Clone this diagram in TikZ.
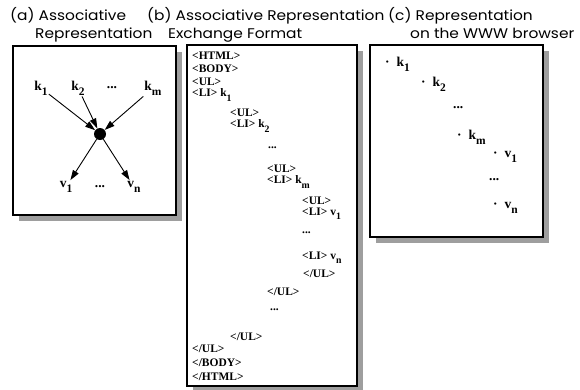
\documentclass[tikz,border=0pt]{standalone}
\usepackage{fontspec}
\setmainfont{Liberation Serif}
\newfontfamily\titlefont{Poppins}
\usetikzlibrary{arrows.meta}
\newcommand\lsub[1]{\raisebox{-0.38em}{\scalebox{0.85}{#1}}}
\newcommand\wide[1]{\scalebox{1.1}[1]{#1}}
\tikzset{
  panel/.style={draw=black, line width=1.6pt, fill=white},
  shade/.style={fill=black!38, draw=none},
  ttl/.style={anchor=base west, inner sep=0pt, font=\titlefont\fontsize{14}{14}\selectfont},
  code/.style={anchor=west, inner sep=0pt, font=\bfseries\fontsize{11.5}{11.5}\selectfont},
  lbl/.style={inner sep=1pt, font=\bfseries\fontsize{13.5}{13.5}\selectfont},
  item/.style={anchor=west, inner sep=0pt, font=\bfseries\fontsize{13.5}{13.5}\selectfont},
  arr/.style={-{Triangle[length=10pt,width=6.5pt]}, line width=0.9pt},
}
\begin{document}
\begin{tikzpicture}[x=1pt,y=-1pt]
\useasboundingbox (0,0) rectangle (580,389);
% titles
\node[ttl] (ta1) at (10,20) {\wide{(a) Associative}};
\node[ttl] (ta2) at (35,38) {\wide{Representation}};
\node[ttl] (tb1) at (147,20) {\wide{(b) Associative Representation}};
\node[ttl] (tb2) at (168,38) {\wide{Exchange Format}};
\node[ttl] (tc1) at (388,20) {\wide{(c) Representation}};
\node[ttl] (tc2) at (410,38) {\wide{on the WWW browser}};
% panels
\fill[shade] (19,52) rectangle (182,221);
\draw[panel] (13,46) rectangle (176,215);
\fill[shade] (193,51) rectangle (363,392);
\draw[panel] (187,45) rectangle (357,386);
\fill[shade] (376,51) rectangle (549,243);
\draw[panel] (370,45) rectangle (543,237);
% panel (a)
\node[lbl] (k1) at (41,88) {k\lsub{1}};
\node[lbl] (k2) at (78,88) {k\lsub{2}};
\node[lbl] (kd) at (112,88) {...};
\node[lbl] (km) at (153,88) {k\lsub{m}};
\node[circle, fill=black, inner sep=0pt, minimum size=12pt] (c) at (100,134) {};
\node[lbl] (v1) at (66,187) {v\lsub{1}};
\node[lbl] (vd) at (100,187) {...};
\node[lbl] (vn) at (134,187) {v\lsub{n}};
\draw[arr] (k1) -- (c);
\draw[arr] (k2) -- (c);
\draw[arr] (km) -- (c);
\draw[arr] (c) -- (v1);
\draw[arr] (c) -- (vn);
% panel (b)
\node[code] (h1) at (192,56) {<HTML>};
\node[code] (h2) at (192,69) {<BODY>};
\node[code] (h3) at (192,82) {<UL>};
\node[code] (h4) at (192,95) {<LI> k\lsub{1}};
\node[code] (h5) at (230,113) {<UL>};
\node[code] (h6) at (230,126) {<LI> k\lsub{2}};
\node[code] (h7) at (268,148) {...};
\node[code] (h8) at (267,169) {<UL>};
\node[code] (h9) at (267,182) {<LI> k\lsub{m}};
\node[code] (h10) at (302,201) {<UL>};
\node[code] (h11) at (302,214) {<LI> v\lsub{1}};
\node[code] (h12) at (302,233) {...};
\node[code] (h13) at (302,258) {<LI> v\lsub{n}};
\node[code] (h14) at (303,274) {</UL>};
\node[code] (h15) at (267,292) {</UL>};
\node[code] (h16) at (270,310) {...};
\node[code] (h17) at (230,337) {</UL>};
\node[code] (h18) at (192,349) {</UL>};
\node[code] (h19) at (192,363) {</BODY>};
\node[code] (h20) at (192,377) {</HTML>};
% panel (c)
\node[item] (c1) at (385,64) {·\hspace{7pt}k\lsub{1}};
\node[item] (c2) at (421,84) {·\hspace{7pt}k\lsub{2}};
\node[item] (c3) at (453,108) {...};
\node[item] (c4) at (457,137) {·\hspace{7pt}k\lsub{m}};
\node[item] (c5) at (493,157) {·\hspace{7pt}v\lsub{1}};
\node[item] (c6) at (489,180) {...};
\node[item] (c7) at (493,208) {·\hspace{7pt}v\lsub{n}};
\end{tikzpicture}
\end{document}
